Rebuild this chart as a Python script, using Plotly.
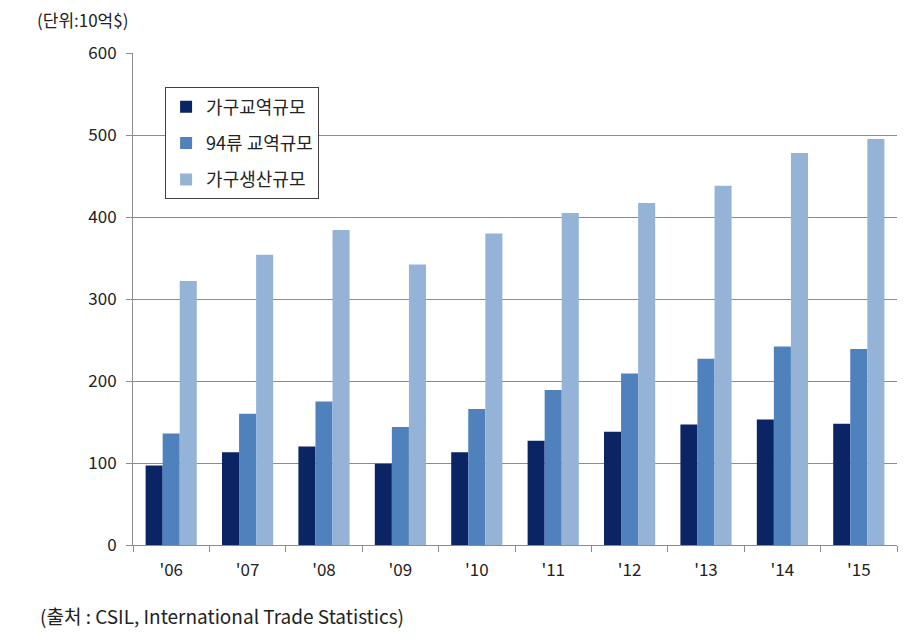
import plotly.graph_objects as go

years = ["'06", "'07", "'08", "'09", "'10", "'11", "'12", "'13", "'14", "'15"]
furniture_trade = [97, 113, 120, 99, 113, 127, 138, 147, 153, 148]
ch94_trade = [136, 160, 175, 144, 166, 189, 209, 227, 242, 239]
furniture_prod = [322, 354, 384, 342, 380, 405, 417, 438, 478, 495]

names = ["가구교역규모", "94류 교역규모", "가구생산규모"]
colors = ["#0b2463", "#4f81bd", "#95b3d7"]
y_ticks = [0, 100, 200, 300, 400, 500, 600]

FONT = "Noto Sans CJK KR"

fig = go.Figure()
for name, vals, col in zip(names, [furniture_trade, ch94_trade, furniture_prod], colors):
    fig.add_trace(go.Bar(x=years, y=vals, name=name, legendgroup=name,
                         marker=dict(color=col, line=dict(width=0))))

fig.update_layout(
    width=917, height=640,
    margin=dict(l=133, r=20, t=53, b=95),
    paper_bgcolor="white", plot_bgcolor="white",
    barmode="group", bargap=0.33, bargroupgap=0,
    font=dict(family=FONT, size=17, color="#222222"),
    showlegend=True,
    legend=dict(
        x=0.042, y=0.93, xanchor="left", yanchor="top",
        bgcolor="white", bordercolor="#404040", borderwidth=1,
        font=dict(family=FONT, size=18, color="#222222"),
        tracegroupgap=10, itemwidth=30,
    ),
    xaxis=dict(
        showgrid=False, showline=True, linecolor="#8c8c8c", linewidth=1,
        ticks="outside", tickson="boundaries", ticklen=6, tickcolor="#8c8c8c",
        ticklabelstandoff=10,
        tickfont=dict(family=FONT, size=17, color="#222222"),
    ),
    yaxis=dict(
        range=[0, 600], tickvals=y_ticks,
        showgrid=True, gridcolor="#8c8c8c", gridwidth=1,
        showline=True, linecolor="#8c8c8c", linewidth=1,
        ticks="outside", ticklen=6, tickcolor="#8c8c8c",
        ticklabelstandoff=6,
        tickfont=dict(family=FONT, size=17, color="#222222"),
        zeroline=False,
    ),
    annotations=[
        dict(text="(단위:10억$)", xref="paper", yref="paper", x=-0.128, y=1.068,
             xanchor="left", yanchor="middle", showarrow=False,
             font=dict(family=FONT, size=17, color="#222222")),
        dict(text="(출처 : CSIL, International Trade Statistics)", xref="paper", yref="paper",
             x=-0.125, y=-0.143, xanchor="left", yanchor="middle", showarrow=False,
             font=dict(family=FONT, size=19, color="#222222")),
    ],
)

fig.write_html("out.html")
